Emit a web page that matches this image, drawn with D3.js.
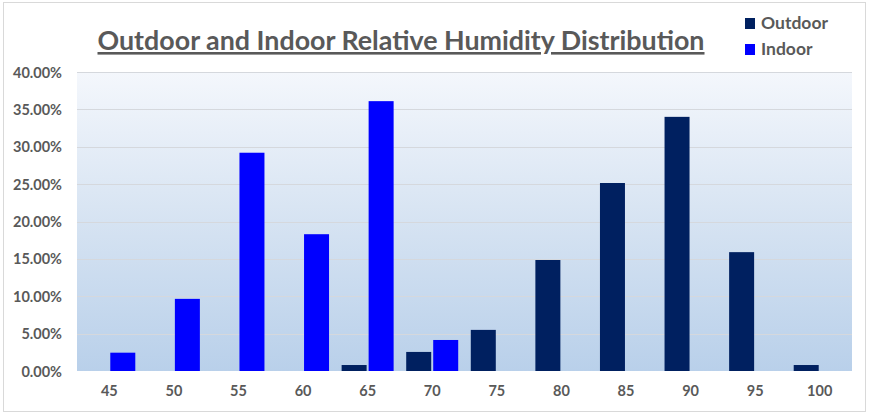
<!DOCTYPE html>
<html>
<head>
<meta charset="utf-8">
<script src="https://cdn.jsdelivr.net/npm/d3@7"></script>
<style>
html,body{margin:0;padding:0;background:#fff;}
svg{display:block;}
text{font-family:Lato,"Open Sans",sans-serif;}
</style>
</head>
<body>
<svg id="chart" width="870" height="417"></svg>
<script>
const categories = ["45","50","55","60","65","70","75","80","85","90","95","100"];
const outdoor = [0, 0, 0, 0, 0.8, 2.55, 5.5, 14.85, 25.15, 34.0, 15.9, 0.8];
const indoor  = [2.45, 9.65, 29.2, 18.3, 36.1, 4.15, 0, 0, 0, 0, 0, 0];
const seriesNames = ["Outdoor", "Indoor"];
const seriesColors = ["#002060", "#0000FF"];
const yTicks = [0, 5, 10, 15, 20, 25, 30, 35, 40];
const titleText = "Outdoor and Indoor Relative Humidity Distribution";

const svg = d3.select("#chart");
const plot = {left: 77, right: 852, top: 72, bottom: 371};

// outer border
svg.append("rect").attr("x", 3.5).attr("y", 2.5).attr("width", 862).attr("height", 409)
  .attr("fill", "#fff").attr("stroke", "#d9d9d9").attr("stroke-width", 1);

// gradient
const defs = svg.append("defs");
const grad = defs.append("linearGradient").attr("id", "bg").attr("x1", 0).attr("y1", 0).attr("x2", 0).attr("y2", 1);
grad.append("stop").attr("offset", "0%").attr("stop-color", "#f4f7fc");
grad.append("stop").attr("offset", "55%").attr("stop-color", "#d3e1f1");
grad.append("stop").attr("offset", "100%").attr("stop-color", "#b9d0ea");

const x = d3.scaleBand().domain(categories).range([plot.left, plot.right]).padding(0);
const y = d3.scaleLinear().domain([0, 40]).range([plot.bottom, plot.top]);

svg.append("rect").attr("x", plot.left).attr("y", plot.top)
  .attr("width", plot.right - plot.left).attr("height", plot.bottom - plot.top)
  .attr("fill", "url(#bg)");

// gridlines
svg.append("g").selectAll("line").data(yTicks.filter(d => d > 0)).join("line")
  .attr("x1", plot.left).attr("x2", plot.right)
  .attr("y1", d => Math.round(y(d)) + 0.5).attr("y2", d => Math.round(y(d)) + 0.5)
  .attr("stroke", "#d5d8dd").attr("stroke-width", 1);

// y axis
const yAxis = d3.axisLeft(y).tickValues(yTicks).tickFormat(d => d.toFixed(2) + "%").tickSize(0).tickPadding(15);
const yg = svg.append("g").attr("transform", `translate(${plot.left},0)`).call(yAxis);
yg.select(".domain").remove();
yg.selectAll("text").attr("font-size", 14.5).attr("font-weight", "bold").attr("fill", "#595959").attr("dy", "0.35em");

// x axis
const xAxis = d3.axisBottom(x).tickSize(0).tickPadding(15);
const xg = svg.append("g").attr("transform", `translate(0,${plot.bottom})`).call(xAxis);
xg.select(".domain").remove();
xg.selectAll("text").attr("font-size", 14.5).attr("font-weight", "bold").attr("fill", "#595959");

// bars
const barW = 25, gap = 1;
const data = [];
categories.forEach((c, i) => {
  data.push({c, s: 0, v: outdoor[i]});
  data.push({c, s: 1, v: indoor[i]});
});
svg.append("g").selectAll("rect").data(data.filter(d => d.v > 0)).join("rect")
  .attr("x", d => x(d.c) + x.bandwidth() / 2 + (d.s === 0 ? -gap - barW : gap))
  .attr("width", barW)
  .attr("y", d => y(d.v))
  .attr("height", d => y(0) - y(d.v))
  .attr("fill", d => seriesColors[d.s]);

// title
svg.append("text").attr("x", 401).attr("y", 50).attr("text-anchor", "middle")
  .attr("font-size", 26).attr("font-weight", "bold").attr("fill", "#595959")
  .attr("text-decoration", "underline")
  .attr("textLength", 607).attr("lengthAdjust", "spacingAndGlyphs")
  .text(titleText);

// legend
const lg = svg.append("g");
seriesNames.forEach((n, i) => {
  const yy = 23 + i * 26;
  lg.append("rect").attr("x", 745).attr("y", yy - 5).attr("width", 10).attr("height", 11).attr("fill", seriesColors[i]);
  lg.append("text").attr("x", 761).attr("y", yy).attr("dy", "0.35em")
    .attr("font-size", 17.5).attr("font-weight", "bold").attr("fill", "#595959").text(n);
});
</script>
</body>
</html>
